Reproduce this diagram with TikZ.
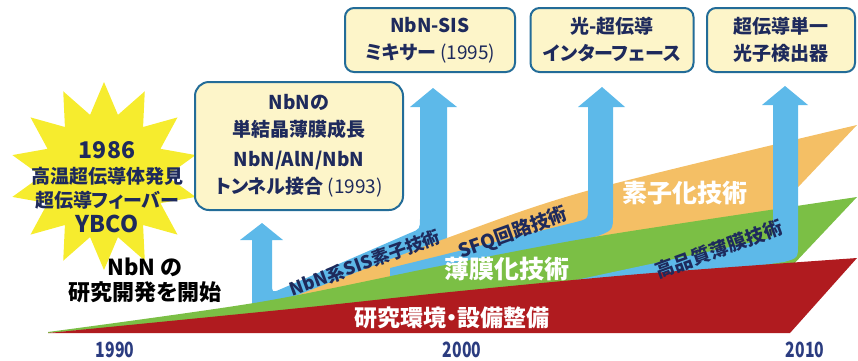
\documentclass[tikz,border=0pt]{standalone}
\usepackage{fontspec}
\setmainfont{Noto Sans CJK JP}[RawFeature=+palt]
\usetikzlibrary{shapes.geometric}
\definecolor{layerred}{HTML}{B01B1F}
\definecolor{layergreen}{HTML}{7BBF45}
\definecolor{layerorange}{HTML}{F4BF65}
\definecolor{flowblue}{HTML}{5DB9E9}
\definecolor{boxfill}{HTML}{FDF5C9}
\definecolor{boxline}{HTML}{236C98}
\definecolor{inknavy}{HTML}{1E2A5C}
\definecolor{burstyellow}{HTML}{F6EC2E}
\definecolor{yearblue}{HTML}{2B3C80}
\tikzset{
  topic/.style={draw=boxline, line width=2pt, fill=boxfill, rounded corners=9pt, align=center,
    text=inknavy, inner sep=0pt, font=\bfseries\fontsize{19}{27}\selectfont},
  fieldlabel/.style={text=white, font=\bfseries\fontsize{25}{25}\selectfont},
  flowlabel/.style={text=inknavy, rotate=20, font=\bfseries\fontsize{19}{19}\selectfont},
  yearlabel/.style={text=yearblue, font=\bfseries\fontsize{21}{21}\selectfont}
}

\begin{document}
\begin{tikzpicture}[x=1pt, y=-1pt]
\useasboundingbox (0,0) rectangle (858,360);

\fill[flowblue] (240,240) -- (262,223) -- (283,240) -- (272,240) -- (272,283)
  .. controls (272,293) .. (281,289) -- (410,233) .. controls (420,229) .. (420,218)
  -- (420,107) -- (410,107) -- (433,88) -- (457,107) -- (447,107) -- (447,330)
  -- (252,330) -- (252,240) -- cycle;
\fill[layerorange] plot[smooth] coordinates {(285,300) (447,238) (590,190) (857,125)}
  -- (765,222) -- (600,300) -- (300,306) -- cycle;
\fill[flowblue] (390,268) -- (576,222) .. controls (588,219) .. (588,207) -- (588,107)
  -- (578,107) -- (602,87) -- (625,107) -- (613,107) -- (613,214)
  .. controls (613,230) .. (598,236) -- (390,290) -- cycle;
\fill[layergreen] plot[smooth] coordinates {(48,332) (260,302) (440,266) (600,236) (857,197)}
  -- (790,268) -- (48,333) -- cycle;
\fill[flowblue] (520,292) -- (758,241) .. controls (773,238) .. (773,226) -- (773,105)
  -- (762,105) -- (785,86) -- (808,105) -- (798,105) -- (798,244)
  .. controls (798,258) .. (784,262) -- (520,300) -- cycle;
\fill[layerred] plot[smooth] coordinates {(48,333) (300,308) (450,292) (640,274) (857,258)}
  -- (790,333) -- cycle;

\node[star, star points=14, star point ratio=1.5, minimum size=188pt, inner sep=0pt,
  fill=burstyellow] (bang) at (104,176) {};
\node[align=center, text=inknavy, font=\bfseries\fontsize{19}{24.5}\selectfont] (discovery) at (107,187)
  {{\fontsize{23}{24.5}\selectfont 1986}\\高温超伝導体発見\\超伝導フィーバー\\{\fontsize{23}{24.5}\selectfont YBCO}};
\node[align=center, font=\bfseries\fontsize{22}{25}\selectfont] (start) at (145,280) {NbN の\\研究開発を開始};

\node[topic, rounded corners=14pt, minimum width=208pt, minimum height=128pt] (growth) at (299,146)
  {NbNの\\単結晶薄膜成長\\[3pt]NbN/AlN/NbN\\トンネル接合 {\mdseries (1993)}};
\node[topic, minimum width=170pt, minimum height=64pt] (mixer) at (430,40) {NbN-SIS\\ミキサー {\mdseries (1995)}};
\node[topic, minimum width=163pt, minimum height=64pt] (interface) at (612,40) {光-超伝導\\インターフェース};
\node[topic, minimum width=148pt, minimum height=64pt] (detector) at (781,40) {超伝導単一\\光子検出器};

\node[fieldlabel, font=\bfseries\fontsize{23}{23}\selectfont] (infra) at (452,318) {研究環境・設備整備};
\node[fieldlabel] (film) at (507,269) {薄膜化技術};
\node[fieldlabel] (device) at (685,193) {素子化技術};
\node[flowlabel, font=\bfseries\fontsize{18}{18}\selectfont] (sis) at (365,263) {NbN系SIS素子技術};
\node[flowlabel] (sfq) at (513,233) {SFQ回路技術};
\node[flowlabel] (quality) at (719,249) {高品質薄膜技術};

\node[yearlabel] (y1990) at (115,350) {\scalebox{0.75}[1]{1990}};
\node[yearlabel] (y2000) at (462,350) {\scalebox{0.75}[1]{2000}};
\node[yearlabel] (y2010) at (805,350) {\scalebox{0.75}[1]{2010}};
\end{tikzpicture}
\end{document}
